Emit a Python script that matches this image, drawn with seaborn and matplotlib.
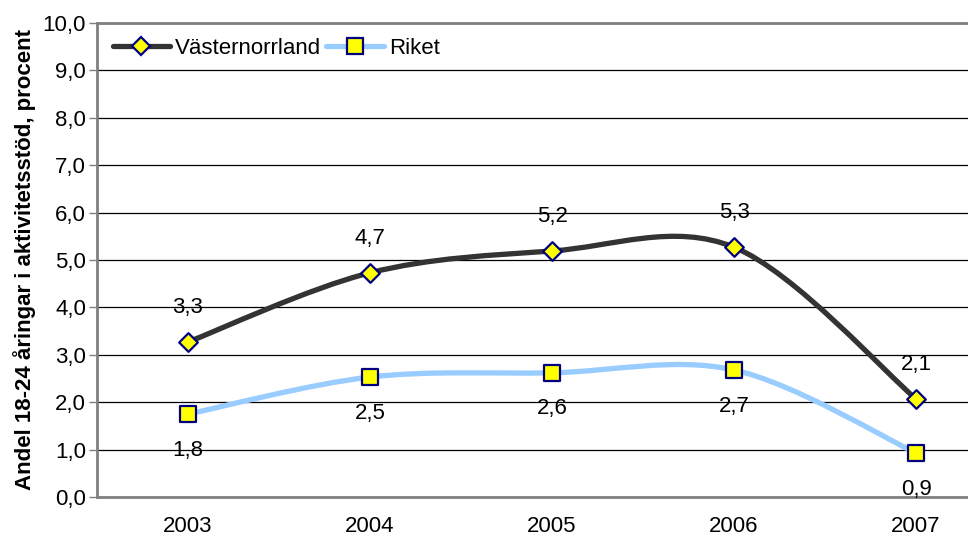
import numpy as np
import pandas as pd
import seaborn as sns
import matplotlib.pyplot as plt
from matplotlib.path import Path
from matplotlib.patches import PathPatch
from matplotlib.lines import Line2D

# Data
years = ["2003", "2004", "2005", "2006", "2007"]
vasternorrland = [3.27, 4.73, 5.19, 5.27, 2.07]
riket = [1.75, 2.53, 2.62, 2.68, 0.93]

df = pd.DataFrame({
    "year": list(range(len(years))) * 2,
    "value": vasternorrland + riket,
    "serie": ["Västernorrland"] * len(years) + ["Riket"] * len(years),
})

sns.set_style("white")
plt.rcParams["font.family"] = ["Liberation Sans", "DejaVu Sans"]
plt.rcParams["text.color"] = "black"
plt.rcParams["xtick.color"] = "black"
plt.rcParams["ytick.color"] = "black"
plt.rcParams["axes.labelcolor"] = "black"

fig = plt.figure(figsize=(9.68, 5.4), dpi=100)
ax = fig.add_axes([97 / 968, 43 / 540, 910 / 968, 474 / 540])


def smooth_path(xs, ys):
    # Excel-like smoothed line: cubic bezier segments (Catmull-Rom tangents)
    pts = np.column_stack([xs, ys]).astype(float)
    n = len(pts)
    verts = [pts[0]]
    codes = [Path.MOVETO]
    for i in range(n - 1):
        p0 = pts[i - 1] if i > 0 else pts[i]
        p1 = pts[i]
        p2 = pts[i + 1]
        p3 = pts[i + 2] if i + 2 < n else pts[i + 1]
        c1 = p1 + (p2 - p0) / 6
        c2 = p2 - (p3 - p1) / 6
        verts += [c1, c2, p2]
        codes += [Path.CURVE4] * 3
    return Path(verts, codes)


styles = {
    "Västernorrland": dict(color="#333333", marker="D", ms=9.5, offset=25),
    "Riket": dict(color="#99CCFF", marker="s", ms=11, offset=-26),
}

for name, st in styles.items():
    sub = df[df.serie == name]
    patch = PathPatch(smooth_path(sub.year, sub.value), facecolor="none",
                      edgecolor=st["color"], lw=3.8, capstyle="round", zorder=3)
    ax.add_patch(patch)
    sns.scatterplot(data=sub, x="year", y="value", marker=st["marker"], s=st["ms"] ** 2,
                    color="#FFFF00", edgecolor="#000080", linewidth=1.6, zorder=4,
                    ax=ax, legend=False)
    for x, y in zip(sub.year, sub.value):
        ax.annotate(f"{y:.1f}".replace(".", ","), (x, y), xytext=(0, st["offset"]),
                    textcoords="offset points", ha="center", va="center", fontsize=16)

ax.set_xlim(-0.5, len(years) - 0.5)
ax.set_ylim(0, 10)
ax.set_yticks(np.arange(0, 11, 1))
ax.set_yticklabels([f"{v:.1f}".replace(".", ",") for v in np.arange(0, 11, 1)], fontsize=16)
ax.set_xticks(range(len(years)))
ax.set_xticklabels(years, fontsize=16)
ax.set_xticks(np.arange(0.5, len(years) - 0.5, 1), minor=True)
ax.tick_params(axis="x", which="major", length=0, pad=14)
ax.tick_params(axis="x", which="minor", length=6, color="#808080", width=1)
ax.tick_params(axis="y", length=6, color="#808080", width=1, direction="out", left=True,
               pad=2)
ax.grid(axis="y", color="black", lw=0.9)
ax.set_axisbelow(True)
for side in ["left", "bottom", "top"]:
    ax.spines[side].set_color("#808080")
    ax.spines[side].set_linewidth(2)
ax.spines["right"].set_visible(False)

ax.set_xlabel("")
ax.set_ylabel("Andel 18-24 åringar i aktivitetsstöd, procent", fontsize=16,
              fontweight="bold", labelpad=5)

handles = [
    Line2D([], [], color="#333333", lw=3.8, marker="D", ms=9.5, mfc="#FFFF00",
           mec="#000080", mew=1.6),
    Line2D([], [], color="#99CCFF", lw=3.8, marker="s", ms=11, mfc="#FFFF00",
           mec="#000080", mew=1.6),
]
ax.legend(handles, ["Västernorrland", "Riket"], loc="upper left", ncol=2, frameon=False,
          fontsize=16, handlelength=2.6, columnspacing=0.25, handletextpad=0.2,
          borderaxespad=0.3, bbox_to_anchor=(0.0, 1.002))

fig.savefig("out.png", dpi=100)
